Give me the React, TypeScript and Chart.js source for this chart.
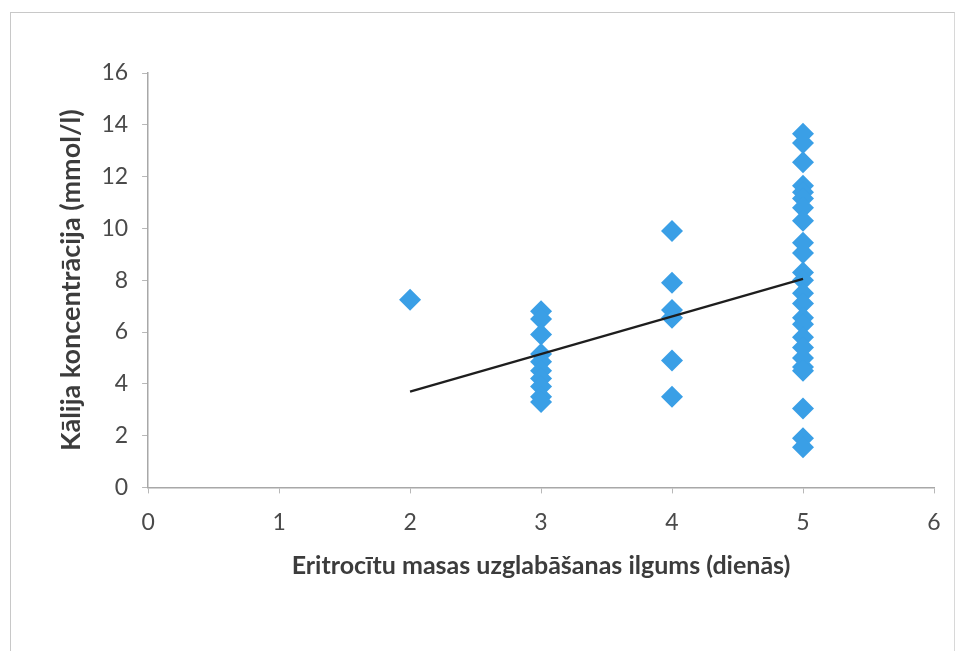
import React, { useEffect, useRef } from "react";
import { Chart, registerables } from "chart.js";

Chart.register(...registerables);

const day2: number[] = [7.25];
const day3: number[] = [6.8, 6.5, 5.9, 5.15, 4.85, 4.5, 4.2, 3.9, 3.5, 3.3];
const day4: number[] = [9.9, 7.9, 6.85, 6.55, 4.9, 3.5];
const day5: number[] = [
  13.65, 13.3, 12.55, 11.65, 11.4, 11.15, 10.8, 10.3, 9.45, 9.05, 8.3, 8.0, 7.5, 7.1,
  6.55, 6.3, 5.8, 5.4, 5.0, 4.65, 4.5, 3.05, 1.9, 1.55,
];
const trendX: number[] = [2, 5];
const trendY: number[] = [3.7, 8.05];
const xTicks: number[] = [0, 1, 2, 3, 4, 5, 6];

const xTitle = "Eritrocītu masas uzglabāšanas ilgums (dienās)";
const yTitle = "Kālija koncentrācija (mmol/l)";

function App() {
  const ref = useRef<HTMLCanvasElement | null>(null);
  useEffect(() => {
    if (!ref.current) return;
    const pts = [
      ...day2.map((y) => ({ x: 2, y })),
      ...day3.map((y) => ({ x: 3, y })),
      ...day4.map((y) => ({ x: 4, y })),
      ...day5.map((y) => ({ x: 5, y })),
    ];
    const chart = new Chart(ref.current, {
      type: "scatter",
      data: {
        datasets: [
          {
            data: trendX.map((x, i) => ({ x, y: trendY[i] })),
            type: "line",
            borderColor: "#1e1e1e",
            borderWidth: 2.2,
            pointRadius: 0,
            showLine: true,
            fill: false,
          } as any,
          {
            data: pts,
            pointStyle: "rectRot",
            pointRadius: 11,
            backgroundColor: "#3a9fe6",
            borderColor: "#3a9fe6",
            borderWidth: 0,
          },
        ],
      },
      options: {
        animation: false,
        responsive: false,
        maintainAspectRatio: false,
        layout: { padding: { left: 51, right: 25, top: 73, bottom: 66 } },
        plugins: { legend: { display: false }, tooltip: { enabled: false } },
        scales: {
          x: {
            type: "linear",
            min: 0,
            max: 6,
            afterBuildTicks: (axis: any) => {
              axis.ticks = xTicks.map((v) => ({ value: v }));
            },
            grid: {
              drawOnChartArea: false,
              drawTicks: true,
              tickLength: 6,
              color: "#b8b8b8",
            },
            border: { color: "#a8a8a8", width: 1.5 },
            ticks: {
              color: "#4a4a4a",
              font: { family: "Lato, 'Open Sans', sans-serif", size: 23 },
              padding: 15,
              maxRotation: 0,
            },
            title: {
              display: true,
              text: xTitle,
              color: "#3c3c3c",
              font: { family: "Lato, 'Open Sans', sans-serif", size: 25, weight: "bold" },
              padding: { top: 0 },
            },
          },
          y: {
            type: "linear",
            min: 0,
            max: 16,
            ticks: {
              stepSize: 2,
              color: "#4a4a4a",
              font: { family: "Lato, 'Open Sans', sans-serif", size: 23 },
              padding: 14,
            },
            grid: {
              drawOnChartArea: false,
              drawTicks: true,
              tickLength: 6,
              color: "#b8b8b8",
            },
            border: { color: "#a8a8a8", width: 1.5 },
            title: {
              display: true,
              text: yTitle,
              color: "#3c3c3c",
              font: { family: "Lato, 'Open Sans', sans-serif", size: 27, weight: "bold" },
              padding: { bottom: 0 },
            },
          },
        },
      },
    });
    return () => chart.destroy();
  }, []);
  return (
    <div
      style={{
        position: "fixed",
        left: 0,
        top: 0,
        width: 959,
        height: 651,
        background: "#ffffff",
      }}
    >
      <div
        style={{
          position: "absolute",
          left: 10,
          top: 12,
          width: 943,
          height: 660,
          borderTop: "1px solid #c8c8c8",
          borderLeft: "1px solid #c8c8c8",
          borderRight: "1px solid #d8d8d8",
        }}
      />
      <canvas ref={ref} width={959} height={651} style={{ position: "absolute", left: 0, top: 0 }} />
    </div>
  );
}

export default App;
